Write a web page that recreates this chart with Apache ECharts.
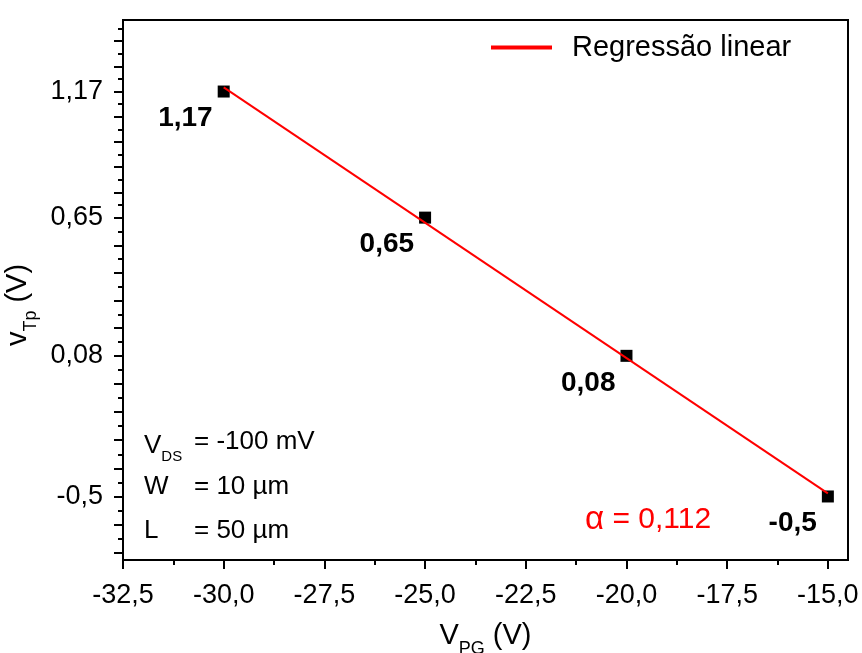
<!DOCTYPE html>
<html>
<head>
<meta charset="utf-8">
<script src="https://cdn.jsdelivr.net/npm/echarts@6/dist/echarts.min.js"></script>
<style>
  html, body { margin: 0; padding: 0; background: #fff; }
  #chart { width: 862px; height: 653px; }
</style>
</head>
<body>
<div id="chart"></div>
<script>
// Measured threshold voltage against programming gate voltage
const vpg = [-30, -25, -20, -15];
const vtp = [1.17, 0.65, 0.08, -0.5];

// Linear regression line (slope -0.112 V/V), drawn between its end points
const fitX = [-30, -15];
const fitY = [1.187, -0.487];

// Axis ticks
const xTickValues = [-32.5, -30, -27.5, -25, -22.5, -20, -17.5, -15];
const yTickValues = [1.17, 0.65, 0.08, -0.5];

const FONT = 'Liberation Sans, Arial, sans-serif';
const xRange = [-32.5, -14.5];
const yRange = [-0.762, 1.465];

const comma = v => String(v).replace('.', ',');

// Major y ticks: each labelled value plus four subdivisions between neighbours
function buildYTicks() {
  const s = yTickValues.slice().sort((a, b) => a - b);
  const n = s.length;
  const major = [];
  for (let i = 0; i < n - 1; i++) {
    const step = (s[i + 1] - s[i]) / 5;
    for (let k = 0; k < 5; k++) major.push(s[i] + k * step);
  }
  major.push(s[n - 1]);
  const lo = (s[1] - s[0]) / 5;
  for (let v = s[0] - lo; v > yRange[0]; v -= lo) major.unshift(v);
  const hi = (s[n - 1] - s[n - 2]) / 5;
  for (let v = s[n - 1] + hi; v < yRange[1]; v += hi) major.push(v);
  const minor = [];
  for (let i = 0; i < major.length - 1; i++) minor.push((major[i] + major[i + 1]) / 2);
  const h0 = (major[1] - major[0]) / 2;
  if (major[0] - h0 > yRange[0]) minor.unshift(major[0] - h0);
  const h1 = (major[major.length - 1] - major[major.length - 2]) / 2;
  if (major[major.length - 1] + h1 < yRange[1]) minor.push(major[major.length - 1] + h1);
  return { major, minor };
}
const yTicks = buildYTicks();
const xMinor = [];
for (let i = 0; i < xTickValues.length - 1; i++) xMinor.push((xTickValues[i] + xTickValues[i + 1]) / 2);

const chart = echarts.init(document.getElementById('chart'), null, { renderer: 'canvas' });

const axisLineStyle = { show: true, onZero: false, lineStyle: { color: '#000', width: 2 } };
const hiddenLine = { show: false, onZero: false };

chart.setOption({
  animation: false,
  textStyle: { fontFamily: FONT, color: '#000' },
  grid: {
    left: 123, right: 14, top: 20, bottom: 93,
    outerBoundsMode: 'none', containLabel: false,
    show: true, borderColor: '#000', borderWidth: 2, backgroundColor: 'transparent'
  },
  legend: {
    data: ['Regressão linear'],
    left: 486, top: 28,
    icon: 'rect', itemWidth: 61, itemHeight: 4,
    textStyle: { fontSize: 29, fontFamily: FONT, color: '#000', padding: [0, 0, 0, 15] }
  },
  xAxis: [{
    type: 'value', min: xRange[0], max: xRange[1], position: 'bottom',
    name: '{m|V}{s|PG}{m| (V)}',
    nameLocation: 'middle', nameGap: 54,
    nameTextStyle: {
      rich: {
        m: { fontSize: 29, fontFamily: FONT, color: '#000', lineHeight: 29 },
        s: { fontSize: 18, fontFamily: FONT, color: '#000', lineHeight: 18, padding: [26, 0, 0, 0] }
      }
    },
    axisLine: axisLineStyle,
    axisTick: { show: true, inside: false, length: 9, lineStyle: { color: '#000', width: 2 }, customValues: xTickValues },
    axisLabel: { customValues: xTickValues, fontSize: 27, color: '#000', margin: 22, formatter: v => (v.toFixed(1)).replace('.', ',') },
    splitLine: { show: false }
  }, {
    type: 'value', min: xRange[0], max: xRange[1], position: 'bottom', offset: 0,
    axisLine: hiddenLine,
    axisTick: { show: true, inside: false, length: 5, lineStyle: { color: '#000', width: 2 }, customValues: xMinor },
    axisLabel: { show: false },
    splitLine: { show: false }
  }],
  yAxis: [{
    type: 'value', min: yRange[0], max: yRange[1], position: 'left',
    name: '{m|v}{s|Tp}{m| (V)}',
    nameLocation: 'middle', nameGap: 72, nameRotate: 90,
    nameTextStyle: {
      padding: [0, 30, 0, 0],
      rich: {
        m: { fontSize: 29, fontFamily: FONT, color: '#000', lineHeight: 29 },
        s: { fontSize: 18, fontFamily: FONT, color: '#000', lineHeight: 18, padding: [26, 0, 0, 0] }
      }
    },
    axisLine: axisLineStyle,
    axisTick: { show: true, inside: false, length: 9, lineStyle: { color: '#000', width: 2 }, customValues: yTicks.major },
    axisLabel: { customValues: yTickValues, fontSize: 27, color: '#000', margin: 20, formatter: comma },
    splitLine: { show: false }
  }, {
    type: 'value', min: yRange[0], max: yRange[1], position: 'left', offset: 0,
    axisLine: hiddenLine,
    axisTick: { show: true, inside: false, length: 5, lineStyle: { color: '#000', width: 2 }, customValues: yTicks.minor },
    axisLabel: { show: false },
    splitLine: { show: false }
  }],
  series: [{
    type: 'scatter',
    name: 'VTp',
    data: vpg.map((x, i) => [x, vtp[i]]),
    symbol: 'rect', symbolSize: 12,
    itemStyle: { color: '#000', opacity: 1 },
    label: {
      show: true, position: 'left', distance: 5, offset: [0, 27],
      fontSize: 28, fontWeight: 'bold', color: '#000', fontFamily: FONT,
      formatter: p => comma(p.value[1])
    },
    z: 2
  }, {
    type: 'line',
    name: 'Regressão linear',
    data: fitX.map((x, i) => [x, fitY[i]]),
    showSymbol: false, symbol: 'none',
    lineStyle: { color: '#ff0000', width: 2 },
    itemStyle: { color: '#ff0000' },
    z: 3
  }],
  graphic: [
    { type: 'text', left: 144, top: 427, style: { text: '{m|V}{s|DS}', rich: {
        m: { fontSize: 26, fontFamily: FONT, fill: '#000', lineHeight: 26 },
        s: { fontSize: 15, fontFamily: FONT, fill: '#000', lineHeight: 15, padding: [22, 0, 0, 0] } } } },
    { type: 'text', left: 194, top: 429, style: { text: '= -100 mV', font: '26px ' + FONT, fill: '#000' } },
    { type: 'text', left: 144, top: 474, style: { text: 'W', font: '26px ' + FONT, fill: '#000' } },
    { type: 'text', left: 194, top: 474, style: { text: '= 10 µm', font: '26px ' + FONT, fill: '#000' } },
    { type: 'text', left: 144, top: 518, style: { text: 'L', font: '26px ' + FONT, fill: '#000' } },
    { type: 'text', left: 194, top: 518, style: { text: '= 50 µm', font: '26px ' + FONT, fill: '#000' } },
    { type: 'text', left: 585, top: 503, style: { text: '{a|α}{t| = 0,112}', rich: {
        a: { fontSize: 33, fontFamily: FONT, fill: '#ff0000', lineHeight: 33 },
        t: { fontSize: 30, fontFamily: FONT, fill: '#ff0000', lineHeight: 33 } } } }
  ]
});
</script>
</body>
</html>
